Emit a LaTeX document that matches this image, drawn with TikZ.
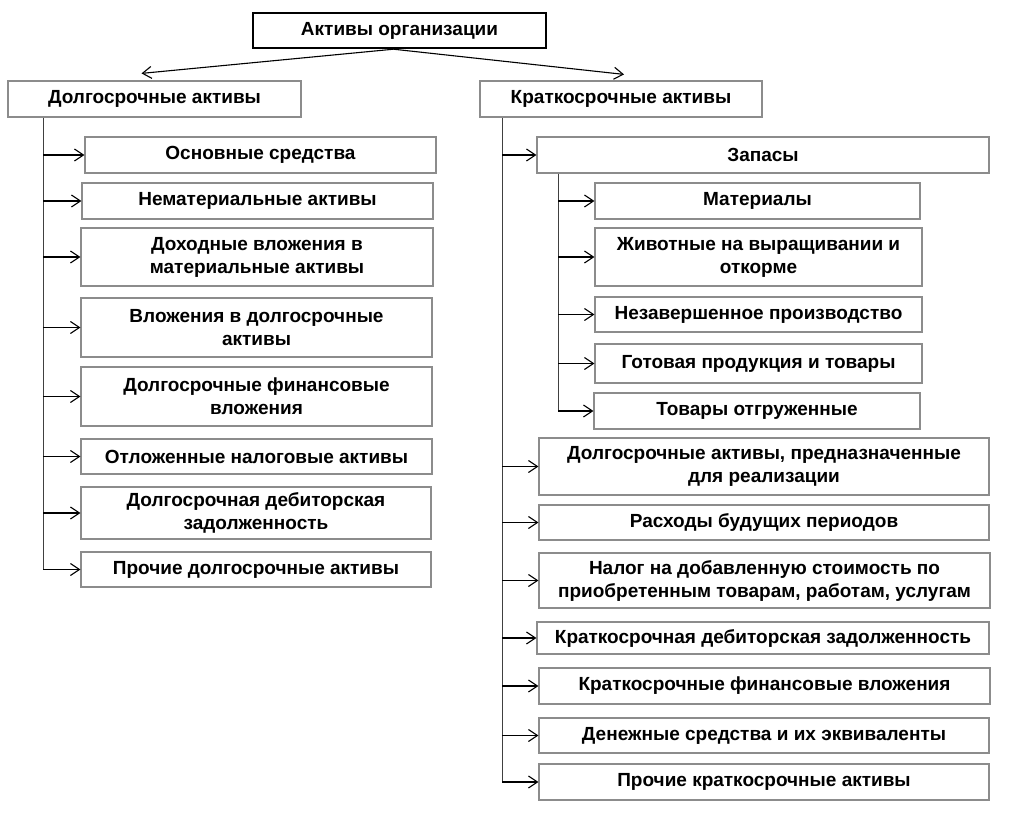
\documentclass[tikz,border=0pt]{standalone}
\usepackage{fontspec}
\setmainfont{Liberation Sans}
\usetikzlibrary{arrows,arrows.meta,positioning,calc}

\begin{document}
\begin{tikzpicture}[x=1pt,y=-1pt,
        box/.style={draw=black!45,line width=1.2pt,rectangle,align=center,inner sep=0pt,
          font=\bfseries\fontsize{19}{23}\selectfont},
        topbox/.style={box,draw=black,line width=2.4pt},
        link/.style={->,line width=1.1pt,>={Straight Barb[length=9pt,width=12pt,line width=1.1pt]}},
        trunk/.style={line width=1.4pt,draw=black!75}]
        \useasboundingbox (0,0) rectangle (1024,814);
        % draw root and the two groups
        \node[topbox,minimum width=293pt,minimum height=35pt] (root) at (399.5,30.5) {Активы организации};
        \node[box,minimum width=293pt,minimum height=36pt] (long) at (154.5,99) {Долгосрочные активы};
        \node[box,minimum width=282pt,minimum height=36pt] (short) at (621,99) {Краткосрочные активы};
        \draw[link] ([xshift=-6pt]root.south) -- ([xshift=-13pt,yshift=7pt]long.north);
        \draw[link] ([xshift=-6pt]root.south) -- ([xshift=3pt,yshift=6pt]short.north);
        % draw long-term items
        \node[box,minimum width=351pt,minimum height=36pt] (l1) at (260.5,155) {Основные средства};
        \node[box,minimum width=351pt,minimum height=36pt] (l2) at (257.5,201) {Нематериальные активы};
        \node[box,minimum width=352pt,minimum height=58pt] (l3) at (257,257) {Доходные вложения в\\материальные активы};
        \node[box,minimum width=351pt,minimum height=59pt] (l4) at (256.5,327.5) {Вложения в долгосрочные\\активы};
        \node[box,minimum width=351pt,minimum height=59pt] (l5) at (256.5,396.5) {Долгосрочные финансовые\\вложения};
        \node[box,minimum width=351pt,minimum height=35pt] (l6) at (256.5,456.5) {Отложенные налоговые активы};
        \node[box,minimum width=350pt,minimum height=52pt] (l7) at (256,513) {Долгосрочная дебиторская\\задолженность};
        \node[box,minimum width=350pt,minimum height=35pt] (l8) at (256,569.5) {Прочие долгосрочные активы};
        % draw short-term items
        \node[box,minimum width=452pt,minimum height=36pt] (s1) at (763,155) {Запасы};
        \node[box,minimum width=325pt,minimum height=36pt] (m1) at (757.5,201) {Материалы};
        \node[box,minimum width=327pt,minimum height=58pt] (m2) at (758.5,257) {Животные на выращивании и\\откорме};
        \node[box,minimum width=327pt,minimum height=35pt] (m3) at (758.5,314.5) {Незавершенное производство};
        \node[box,minimum width=327pt,minimum height=39pt] (m4) at (758.5,363.5) {Готовая продукция и товары};
        \node[box,minimum width=326pt,minimum height=36pt] (m5) at (757,411) {Товары отгруженные};
        \node[box,minimum width=450pt,minimum height=57pt] (s2) at (764,466.5) {Долгосрочные активы, предназначенные\\для реализации};
        \node[box,minimum width=450pt,minimum height=35pt] (s3) at (764,522.5) {Расходы будущих периодов};
        \node[box,minimum width=451pt,minimum height=55pt] (s4) at (764.5,580.5) {Налог на добавленную стоимость по\\приобретенным товарам, работам, услугам};
        \node[box,minimum width=452pt,minimum height=32pt] (s5) at (763,638) {Краткосрочная дебиторская задолженность};
        \node[box,minimum width=451pt,minimum height=36pt] (s6) at (764.5,686) {Краткосрочные финансовые вложения};
        \node[box,minimum width=450pt,minimum height=35pt] (s7) at (764,735.5) {Денежные средства и их эквиваленты};
        \node[box,minimum width=450pt,minimum height=36pt] (s8) at (764,782) {Прочие краткосрочные активы};
        % draw trunks
        \coordinate (lt) at ([xshift=36pt]long.south west);
        \coordinate (st) at ([xshift=23pt]short.south west);
        \coordinate (mt) at ([xshift=22pt]s1.south west);
        \draw[trunk] (lt) -- (lt |- l8.west);
        \draw[trunk] (st) -- (st |- s8.west);
        \draw[trunk] (mt) -- (mt |- m5.west);
        % draw arrows
        \foreach \n in {l1,l2,l3,l4,l5,l6,l7,l8}
        \draw[link] (lt |- \n.west) -- (\n.west);
        \foreach \n in {s1,s2,s3,s4,s5,s6,s7,s8}
        \draw[link] (st |- \n.west) -- (\n.west);
        \foreach \n in {m1,m2,m3,m4,m5}
        \draw[link] (mt |- \n.west) -- (\n.west);
\end{tikzpicture}
\end{document}
